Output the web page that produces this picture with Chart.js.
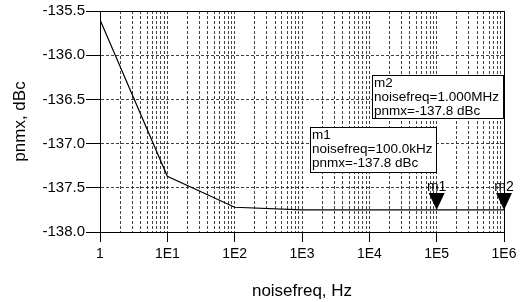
<!DOCTYPE html>
<html>
<head>
<meta charset="utf-8">
<script src="https://cdn.jsdelivr.net/npm/chart.js@4.4.0/dist/chart.umd.min.js"></script>
<style>
  html, body { margin: 0; padding: 0; background: #fff; }
  #wrap { width: 525px; height: 302px; }
</style>
</head>
<body>
<div id="wrap"><canvas id="chart"></canvas></div>
<script>
"use strict";

// Data
const noiseFreq = [1, 10, 100, 1000, 10000, 100000, 1000000];
const pnmx = [-135.6, -137.37, -137.72, -137.75, -137.75, -137.75, -137.75];

const markerNames = ["m1", "m2"];
const markerFreq = [100000, 1000000];
const markerValue = [-137.75, -137.75];
const markerText = [
  ["m1", "noisefreq=100.0kHz", "pnmx=-137.8 dBc"],
  ["m2", "noisefreq=1.000MHz", "pnmx=-137.8 dBc"]
];

const yTicks = [-138.0, -137.5, -137.0, -136.5, -136.0, -135.5];
const decades = [1, 10, 100, 1000, 10000, 100000, 1000000];
const decadeLabels = ["1", "1E1", "1E2", "1E3", "1E4", "1E5", "1E6"];

const FONT = "'Liberation Sans', Arial, sans-serif";

// marker triangles, labels, readout boxes, plot frame
const markerPlugin = {
  id: "markers",
  afterDatasetsDraw(chart) {
    const ctx = chart.ctx;
    const xs = chart.scales.x;
    const ys = chart.scales.y;
    const area = chart.chartArea;

    ctx.save();
    ctx.strokeStyle = "#000";
    ctx.lineWidth = 1;
    ctx.strokeRect(area.left + 0.5, area.top + 0.5, area.right - area.left, area.bottom - area.top);

    markerFreq.forEach((f, i) => {
      const px = xs.getPixelForValue(f);
      const py = ys.getPixelForValue(markerValue[i]);
      ctx.fillStyle = "#000";
      ctx.beginPath();
      ctx.moveTo(px, py);
      ctx.lineTo(px - 8, py - 17);
      ctx.lineTo(px + 8, py - 17);
      ctx.closePath();
      ctx.fill();
      ctx.font = "14px " + FONT;
      ctx.textAlign = "center";
      ctx.textBaseline = "bottom";
      ctx.fillText(markerNames[i], px, py - 16);
    });

    // readout boxes
    const boxes = [
      { x: 310, y: 127, w: 126, h: 45 },
      { x: 372, y: 75, w: 131, h: 43 }
    ];
    boxes.forEach((b, i) => {
      ctx.fillStyle = "#fff";
      ctx.fillRect(b.x, b.y, b.w, b.h);
      ctx.strokeStyle = "#000";
      ctx.strokeRect(b.x + 0.5, b.y + 0.5, b.w, b.h);
      ctx.fillStyle = "#000";
      ctx.font = "13.5px " + FONT;
      ctx.textAlign = "left";
      ctx.textBaseline = "top";
      markerText[i].forEach((t, j) => {
        ctx.fillText(t, b.x + 2, b.y + 2 + j * 14);
      });
    });
    ctx.restore();
  }
};

function isDecade(v) {
  return decades.indexOf(v) >= 0;
}

new Chart(document.getElementById("chart").getContext("2d"), {
  type: "line",
  data: {
    datasets: [
      {
        data: noiseFreq.map((f, i) => ({ x: f, y: pnmx[i] })),
        borderColor: "#000",
        borderWidth: 1.2,
        pointRadius: 0,
        tension: 0,
        fill: false
      }
    ]
  },
  options: {
    responsive: true,
    maintainAspectRatio: false,
    animation: false,
    layout: { padding: { top: 11, right: 21, left: 0, bottom: 0 } },
    plugins: {
      legend: { display: false },
      tooltip: { enabled: false }
    },
    scales: {
      x: {
        type: "logarithmic",
        min: 1,
        max: 1000000,
        afterBuildTicks(scale) {
          const t = [];
          for (let d = 1; d < 1000000; d *= 10) {
            for (let k = 1; k < 10; k++) t.push({ value: k * d });
          }
          t.push({ value: 1000000 });
          scale.ticks = t;
        },
        afterFit(scale) { scale.height = 70; },
        ticks: {
          autoSkip: false,
          maxRotation: 0,
          padding: 4,
          color: "#000",
          font: { family: FONT, size: 14 },
          callback(value) {
            const i = decades.indexOf(value);
            return i >= 0 ? decadeLabels[i] : "";
          }
        },
        grid: {
          color: "rgba(20,20,20,0.8)",
          lineWidth: 1,
          tickLength: 10,
          tickColor: (c) => (c.tick && isDecade(c.tick.value) ? "#000" : "rgba(0,0,0,0)")
        },
        border: { color: "#000", dash: [3, 2] },
        title: {
          display: true,
          text: "noisefreq, Hz",
          color: "#000",
          font: { family: FONT, size: 17 },
          padding: { top: 4, bottom: 0 }
        }
      },
      y: {
        min: -138.0,
        max: -135.5,
        afterBuildTicks(scale) {
          scale.ticks = yTicks.map((v) => ({ value: v }));
        },
        afterFit(scale) { scale.width = 100; },
        ticks: {
          padding: 1,
          color: "#000",
          font: { family: FONT, size: 15 },
          callback(value) { return value.toFixed(1); }
        },
        grid: {
          color: "rgba(20,20,20,0.8)",
          lineWidth: 1,
          tickLength: 14,
          tickColor: "#000"
        },
        border: { color: "#000", dash: [3, 2] },
        title: {
          display: true,
          text: "pnmx, dBc",
          color: "#000",
          font: { family: FONT, size: 17 },
          padding: { top: 10, bottom: 2 }
        }
      }
    }
  },
  plugins: [markerPlugin]
});
</script>
</body>
</html>
